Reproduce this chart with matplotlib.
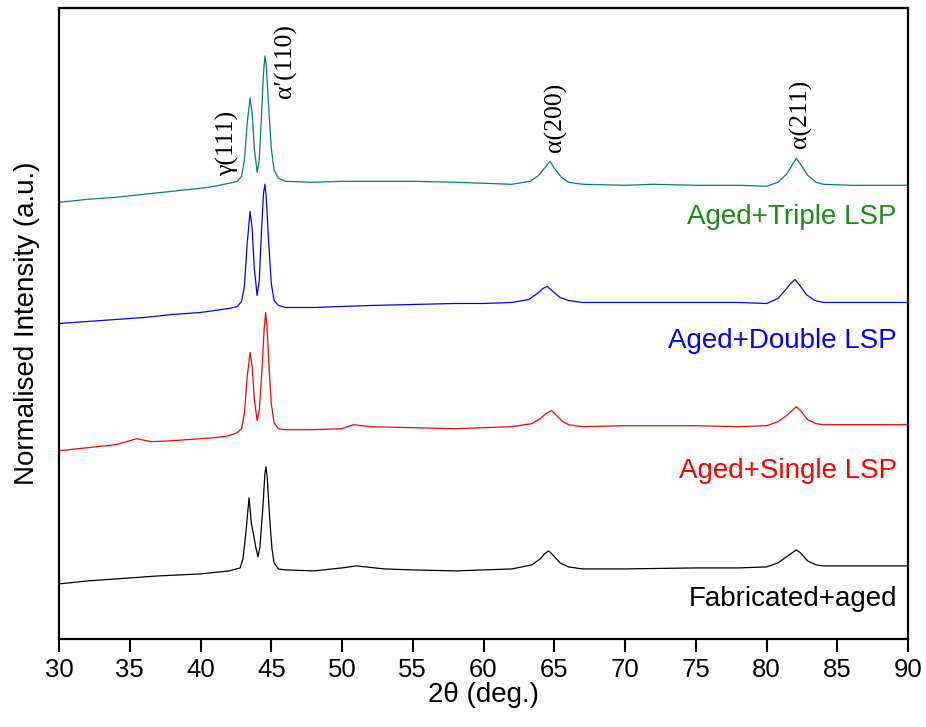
import matplotlib.pyplot as plt

# 2theta positions and intensities (arbitrary units, already offset per pattern)
x_triple = [30, 32, 34, 36, 38, 40, 41, 42, 42.6, 42.9, 43.1, 43.3, 43.5, 43.65, 43.8, 44.0, 44.15, 44.3, 44.45,
            44.55, 44.65, 44.8, 45.0, 45.2, 45.5, 46, 48, 50, 52, 55, 58, 60, 62, 63.3, 63.9, 64.3, 64.7, 65.0,
            65.5, 66, 67, 70, 72, 75, 78, 80, 80.8, 81.4, 81.8, 82.1, 82.4, 82.9, 83.5, 84, 86, 88, 90]
y_triple = [436, 439, 441, 444, 447, 450, 452, 455, 457, 462, 478, 515, 540, 525, 490, 466, 478, 520, 565,
            582, 572, 535, 490, 468, 460, 457, 456, 457, 457, 457, 456, 455, 454, 457, 463, 470, 477, 470,
            461, 456, 454, 453, 454, 453, 453, 452, 456, 464, 473, 480, 474, 463, 456, 454, 453, 453, 453]

x_double = [30, 32, 34, 36, 38, 40, 41, 42, 42.6, 42.9, 43.1, 43.3, 43.5, 43.65, 43.8, 44.0, 44.15, 44.3, 44.45,
            44.55, 44.65, 44.8, 45.0, 45.2, 45.5, 46, 48, 50, 52, 55, 58, 60, 62, 63.2, 63.8, 64.2, 64.5, 64.9,
            65.4, 66, 67, 70, 72, 75, 78, 80, 80.8, 81.3, 81.7, 82.0, 82.3, 82.8, 83.4, 84, 86, 88, 90]
y_double = [315, 317, 319, 321, 324, 326, 328, 330, 332, 337, 352, 395, 427, 410, 370, 343, 358, 405, 445,
            454, 440, 400, 355, 338, 333, 331, 331, 332, 333, 334, 335, 335, 336, 339, 345, 350, 352, 347,
            341, 338, 336, 336, 336, 336, 336, 335, 340, 348, 355, 359, 354, 344, 338, 336, 336, 336, 336]

x_single = [30, 32, 34, 35.5, 36.5, 38, 40, 41, 42, 42.6, 42.9, 43.1, 43.3, 43.5, 43.65, 43.8, 44.0, 44.15, 44.35,
            44.5, 44.6, 44.7, 44.85, 45.0, 45.2, 45.5, 46, 48, 50, 50.8, 52, 55, 58, 60, 62, 63.4, 64.0, 64.4,
            64.8, 65.1, 65.6, 66, 67, 70, 75, 78, 80, 80.8, 81.4, 81.8, 82.1, 82.4, 82.9, 83.5, 84, 86, 88, 90]
y_single = [188, 191, 194, 200, 197, 198, 200, 201, 203, 206, 210, 225, 262, 286, 272, 240, 218, 228, 270,
            310, 326, 312, 270, 235, 216, 210, 209, 209, 210, 214, 212, 211, 210, 211, 212, 215, 220, 225,
            228, 224, 217, 214, 212, 213, 213, 212, 213, 217, 223, 228, 232, 228, 219, 215, 214, 214, 214, 214]

x_fab = [30, 32, 34, 35, 37, 40, 42, 42.8, 43.0, 43.2, 43.43, 43.6, 43.75, 43.9, 44.06, 44.2, 44.4, 44.55, 44.63,
         44.72, 44.9, 45.05, 45.2, 45.5, 46, 48, 50, 51, 53, 55, 58, 60, 62, 63.4, 64.0, 64.3, 64.6, 64.9,
         65.4, 66, 67, 70, 75, 78, 80, 80.8, 81.4, 81.8, 82.1, 82.4, 82.9, 83.5, 84, 86, 88, 90]
y_fab = [55, 58, 60, 61, 63, 65, 68, 71, 80, 105, 141, 115, 104, 92, 82, 92, 130, 165, 172,
         160, 118, 90, 76, 70, 69, 68, 71, 73, 70, 69, 68, 69, 70, 74, 80, 85, 88, 84,
         76, 72, 70, 70, 71, 71, 72, 76, 82, 86, 89, 86, 78, 74, 73, 73, 73, 73]

series = [
    (x_triple, y_triple, '#008080', 'Aged+Triple LSP', '#1a8a1a', 421),
    (x_double, y_double, '#0000ff', 'Aged+Double LSP', '#0000ff', 298),
    (x_single, y_single, '#ff0000', 'Aged+Single LSP', '#ff0000', 168),
    (x_fab, y_fab, '#000000', 'Fabricated+aged', '#000000', 40),
]

peaks = [(41.9, 462, 'γ(111)'), (46.0, 540, 'α′(110)'), (65.1, 486, 'α(200)'), (82.4, 490, 'α(211)')]

plt.rcParams['font.family'] = ['Liberation Sans', 'DejaVu Sans']

fig = plt.figure(figsize=(9.26, 7.27), dpi=100)
ax = fig.add_axes([0.0637, 0.121, 0.917, 0.868])

for xs, ys, c, label, lc, ly in series:
    ax.plot(xs, ys, color=c, linewidth=0.9)
    ax.text(89.2, ly, label, color=lc, fontsize=20, ha='right', va='center')

for px, py, txt in peaks:
    ax.text(px, py, txt, rotation=90, ha='center', va='bottom', fontsize=18.5,
            family=['Liberation Serif', 'DejaVu Serif'])

ax.set_xlim(30, 90)
ax.set_ylim(0, 630)
ax.set_xticks(range(30, 91, 5))
ax.set_yticks([])
ax.tick_params(axis='x', direction='out', length=9, width=1.5, labelsize=18.5, pad=5)
for s in ax.spines.values():
    s.set_linewidth(1.6)

ax.set_xlabel('2θ (deg.)', fontsize=20, labelpad=0)
ax.set_ylabel('Normalised Intensity (a.u.)', fontsize=20, labelpad=14)

fig.savefig('out.png', dpi=100)
